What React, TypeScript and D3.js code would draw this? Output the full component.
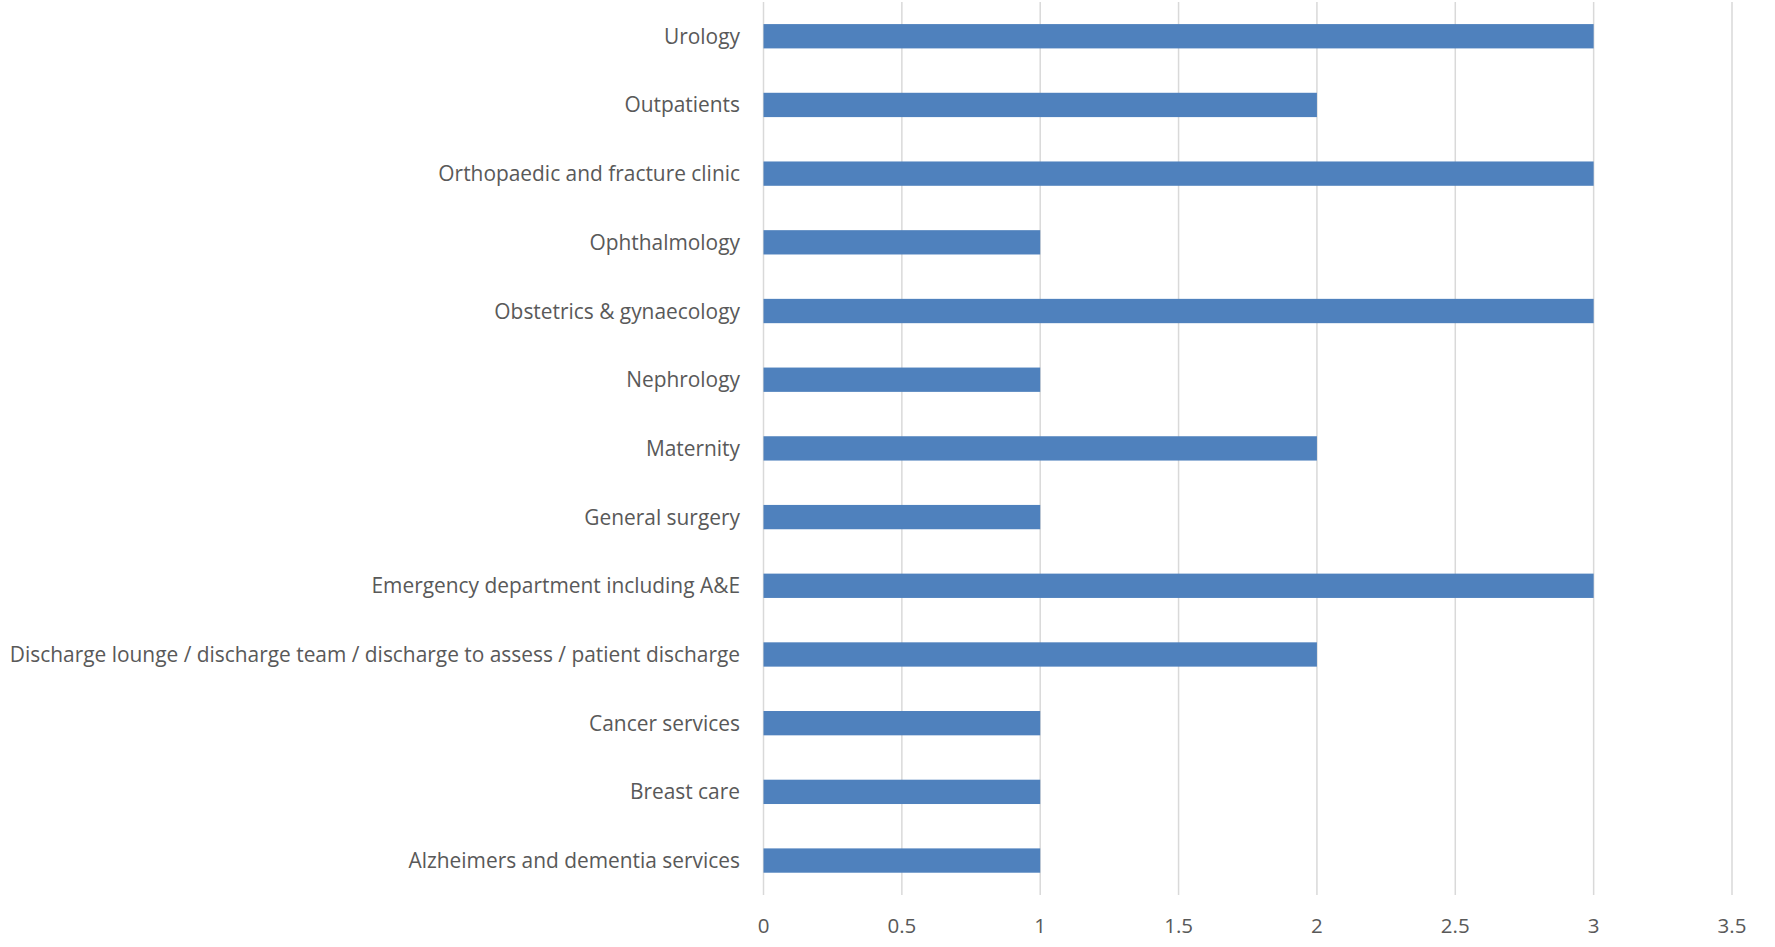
import React, { useEffect } from "react";
import * as d3 from "d3";

// Categories listed top to bottom
const categories = [
  "Urology",
  "Outpatients",
  "Orthopaedic and fracture clinic",
  "Ophthalmology",
  "Obstetrics & gynaecology",
  "Nephrology",
  "Maternity",
  "General surgery",
  "Emergency department including A&E",
  "Discharge lounge / discharge team / discharge to assess / patient discharge",
  "Cancer services",
  "Breast care",
  "Alzheimers and dementia services",
];

const values = [3, 2, 3, 1, 3, 1, 2, 1, 3, 2, 1, 1, 1];

const xTicks = [0, 0.5, 1, 1.5, 2, 2.5, 3, 3.5];

const W = 1775;
const H = 947;
const plot = { left: 763.5, right: 1732, top: 1.9, bottom: 894.9 };
const FONT = "'Open Sans', 'Noto Sans', sans-serif";

export default function App() {
  useEffect(() => {
    document.body.style.margin = "0";
  }, []);

  const x = d3.scaleLinear().domain([0, 3.5]).range([plot.left, plot.right]);
  const y = d3
    .scaleBand<string>()
    .domain(categories)
    .range([plot.top, plot.bottom])
    .paddingInner(0.646)
    .paddingOuter(0.323);

  return (
    <svg width={W} height={H} style={{ display: "block", background: "#fff" }}>
      {/* vertical gridlines */}
      {xTicks.map((t) => (
        <line
          key={"g" + t}
          x1={x(t)}
          x2={x(t)}
          y1={plot.top}
          y2={plot.bottom}
          stroke="#d9d9d9"
          strokeWidth={1.5}
        />
      ))}
      {/* bars */}
      {categories.map((c, i) => (
        <rect
          key={c}
          x={x(0)}
          y={y(c)!}
          width={x(values[i]) - x(0)}
          height={y.bandwidth()}
          fill="#4f81bd"
        />
      ))}
      {/* category labels */}
      {categories.map((c) => (
        <text
          key={"l" + c}
          x={plot.left - 23.5}
          y={y(c)! + y.bandwidth() / 2 + 7.5}
          textAnchor="end"
          fontFamily={FONT}
          fontSize={20.9}
          fill="#595959"
        >
          {c}
        </text>
      ))}
      {/* x tick labels */}
      {xTicks.map((t) => (
        <text
          key={"t" + t}
          x={x(t)}
          y={933}
          textAnchor="middle"
          fontFamily={FONT}
          fontSize={20.5}
          fill="#595959"
        >
          {d3.format("~g")(t)}
        </text>
      ))}
    </svg>
  );
}
